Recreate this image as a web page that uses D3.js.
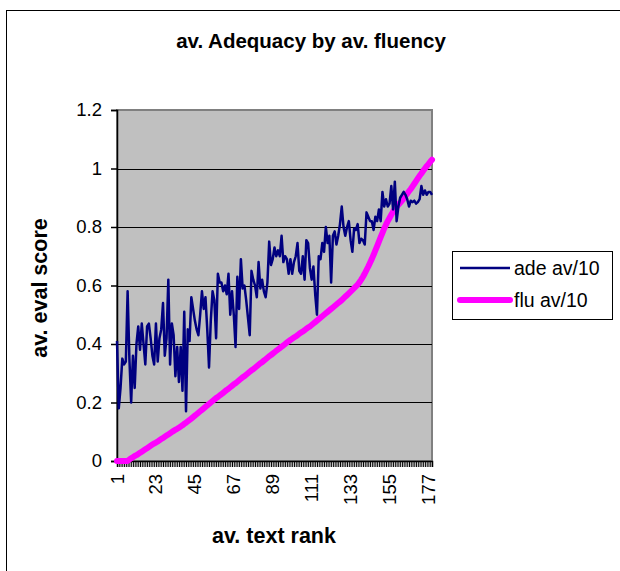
<!DOCTYPE html>
<meta charset="utf-8">
<style>
body { margin: 0; background: #fff; }
text { font-family: "Liberation Sans", Arial, sans-serif; fill: #000; }
.grid line { stroke: #000; stroke-width: 1px; }
</style>
<svg width="620" height="571"></svg>
<script src="https://d3js.org/d3.v7.min.js"></script>
<script>

// ade av/10, one value per text rank 1..179
var ade = [
  0.41, 0.18, 0.25, 0.35, 0.33, 0.34, 0.58, 0.35, 0.20, 0.36,
  0.25, 0.40, 0.46, 0.38, 0.47, 0.40, 0.33, 0.46, 0.47, 0.42,
  0.36, 0.33, 0.47, 0.34, 0.42, 0.45, 0.54, 0.36, 0.42, 0.62,
  0.33, 0.47, 0.43, 0.29, 0.39, 0.27, 0.39, 0.24, 0.51, 0.17,
  0.45, 0.41, 0.56, 0.52, 0.48, 0.45, 0.43, 0.50, 0.58, 0.52,
  0.56, 0.45, 0.32, 0.48, 0.58, 0.55, 0.42, 0.64, 0.61, 0.61,
  0.58, 0.60, 0.57, 0.64, 0.50, 0.58, 0.50, 0.39, 0.63, 0.52,
  0.69, 0.59, 0.60, 0.55, 0.49, 0.43, 0.65, 0.62, 0.60, 0.56,
  0.68, 0.59, 0.62, 0.58, 0.56, 0.61, 0.75, 0.67, 0.69, 0.73,
  0.70, 0.72, 0.70, 0.77, 0.68, 0.70, 0.69, 0.64, 0.69, 0.64,
  0.68, 0.70, 0.745, 0.65, 0.64, 0.70, 0.62, 0.755, 0.745, 0.66,
  0.62, 0.665, 0.57, 0.50, 0.70, 0.69, 0.745, 0.715, 0.80, 0.745,
  0.77, 0.61, 0.77, 0.785, 0.74, 0.77, 0.81, 0.87, 0.80, 0.77,
  0.80, 0.82, 0.755, 0.715, 0.795, 0.79, 0.81, 0.745, 0.76, 0.755,
  0.74, 0.85, 0.835, 0.82, 0.82, 0.79, 0.835, 0.82, 0.86, 0.82,
  0.92, 0.87, 0.895, 0.87, 0.88, 0.94, 0.86, 0.955, 0.82, 0.87,
  0.90, 0.91, 0.92, 0.91, 0.895, 0.87, 0.89, 0.885, 0.89, 0.88,
  0.885, 0.895, 0.94, 0.91, 0.925, 0.91, 0.92, 0.92, 0.91
];

// flu av/10, sorted ascending
var flu = [
  0, 0, 0, 0, 0, 0, 0, 0.005, 0.009, 0.013,
  0.017, 0.02, 0.024, 0.028, 0.032, 0.036, 0.04, 0.044, 0.048, 0.052,
  0.056, 0.06, 0.063, 0.067, 0.071, 0.075, 0.079, 0.083, 0.087, 0.091,
  0.095, 0.099, 0.103, 0.107, 0.11, 0.114, 0.118, 0.122, 0.127, 0.131,
  0.136, 0.14, 0.145, 0.15, 0.155, 0.16, 0.165, 0.17, 0.175, 0.18,
  0.185, 0.19, 0.195, 0.2, 0.205, 0.21, 0.215, 0.219, 0.224, 0.228,
  0.233, 0.238, 0.243, 0.247, 0.252, 0.257, 0.262, 0.266, 0.271, 0.276,
  0.281, 0.286, 0.29, 0.295, 0.3, 0.305, 0.31, 0.314, 0.319, 0.324,
  0.329, 0.334, 0.338, 0.343, 0.348, 0.353, 0.358, 0.362, 0.367, 0.372,
  0.377, 0.381, 0.386, 0.391, 0.395, 0.4, 0.405, 0.409, 0.414, 0.418,
  0.422, 0.426, 0.43, 0.435, 0.439, 0.443, 0.447, 0.452, 0.456, 0.46,
  0.465, 0.47, 0.475, 0.48, 0.485, 0.49, 0.495, 0.5, 0.505, 0.51,
  0.515, 0.52, 0.525, 0.53, 0.535, 0.54, 0.545, 0.55, 0.556, 0.562,
  0.567, 0.573, 0.579, 0.585, 0.591, 0.597, 0.603, 0.611, 0.62, 0.63,
  0.641, 0.653, 0.665, 0.678, 0.691, 0.705, 0.72, 0.735, 0.75, 0.765,
  0.78, 0.795, 0.808, 0.82, 0.831, 0.842, 0.852, 0.861, 0.869, 0.876,
  0.883, 0.89, 0.898, 0.906, 0.914, 0.922, 0.93, 0.939, 0.948, 0.957,
  0.966, 0.975, 0.983, 0.992, 1.0, 1.008, 1.015, 1.023, 1.03
];

var xTickLabels = [1, 23, 45, 67, 89, 111, 133, 155, 177];
var yTickValues = [0, 0.2, 0.4, 0.6, 0.8, 1, 1.2];
var seriesNames = ["ade av/10", "flu av/10"];

var svg = d3.select("svg");

var plotLeft = 117, plotRight = 432, plotTop = 110, plotBottom = 461;
var ranks = d3.range(1, ade.length + 1);

var x = d3.scaleLinear().domain([1, ade.length]).range([plotLeft, plotRight]);
var y = d3.scaleLinear().domain([0, 1.2]).range([plotBottom, plotTop]);

// chart area border (runs off the page right and bottom)
svg.append("rect")
    .attr("x", 6.5).attr("y", 10.5)
    .attr("width", 700).attr("height", 700)
    .attr("fill", "#fff").attr("stroke", "#000");

svg.append("text")
    .attr("x", 311).attr("y", 48)
    .attr("text-anchor", "middle")
    .attr("font-size", 20.5).attr("font-weight", "bold")
    .text("av. Adequacy by av. fluency");

// plot area
svg.append("rect")
    .attr("x", plotLeft).attr("y", plotTop)
    .attr("width", plotRight - plotLeft).attr("height", plotBottom - plotTop)
    .attr("fill", "#c0c0c0").attr("stroke", "#808080").attr("stroke-width", 2);

svg.append("g")
    .attr("class", "grid")
  .selectAll("line")
    .data(yTickValues.slice(1, -1))
    .enter().append("line")
    .attr("x1", plotLeft).attr("x2", plotRight)
    .attr("y1", function(d) { return Math.round(y(d)) + 0.5; })
    .attr("y2", function(d) { return Math.round(y(d)) + 0.5; });

// y axis
var yAxis = svg.append("g")
    .attr("transform", "translate(" + plotLeft + ",0)")
    .call(d3.axisLeft(y).tickValues(yTickValues).tickSize(6).tickPadding(9)
      .tickFormat(d3.format("~g")));
yAxis.selectAll("text").attr("font-size", 18.5).style("font-family", "Liberation Sans, Arial, sans-serif");
yAxis.selectAll("line, path").attr("stroke", "#000").attr("stroke-width", 1.5);

// x axis: a tick per rank, labels every 22
var xAxis = svg.append("g")
    .attr("transform", "translate(0," + plotBottom + ")")
    .call(d3.axisBottom(x).tickValues(ranks).tickSize(6).tickFormat(""));
xAxis.selectAll("line").attr("stroke", "#000").attr("stroke-width", 1);
xAxis.select("path").attr("stroke", "#000").attr("stroke-width", 1.5);

svg.append("g")
  .selectAll("text")
    .data(xTickLabels)
    .enter().append("text")
    .attr("transform", function(d) { return "translate(" + (x(d) + 6.5) + "," + (plotBottom + 13) + ") rotate(-90)"; })
    .attr("text-anchor", "end")
    .attr("font-size", 18.5)
    .text(function(d) { return d; });

svg.append("text")
    .attr("x", 274).attr("y", 543)
    .attr("text-anchor", "middle")
    .attr("font-size", 21.5).attr("font-weight", "bold")
    .text("av. text rank");

svg.append("text")
    .attr("transform", "translate(47,288) rotate(-90)")
    .attr("text-anchor", "middle")
    .attr("font-size", 21.5).attr("font-weight", "bold")
    .text("av. eval score");

var line = d3.line()
    .x(function(d, i) { return x(i + 1); })
    .y(function(d) { return y(d); });

svg.append("path")
    .datum(flu)
    .attr("d", line)
    .attr("fill", "none")
    .attr("stroke", "#ff00ff")
    .attr("stroke-width", 6)
    .attr("stroke-linejoin", "round")
    .attr("stroke-linecap", "round");

svg.append("path")
    .datum(ade)
    .attr("d", line)
    .attr("fill", "none")
    .attr("stroke", "#000080")
    .attr("stroke-width", 2.5)
    .attr("stroke-linejoin", "round");

// legend
var legend = svg.append("g");
legend.append("rect")
    .attr("x", 452.5).attr("y", 251.5)
    .attr("width", 160).attr("height", 68)
    .attr("fill", "#fff").attr("stroke", "#000");

legend.append("line")
    .attr("x1", 460).attr("x2", 510).attr("y1", 268).attr("y2", 268)
    .attr("stroke", "#000080").attr("stroke-width", 2.5);
legend.append("line")
    .attr("x1", 460).attr("x2", 510).attr("y1", 300).attr("y2", 300)
    .attr("stroke", "#ff00ff").attr("stroke-width", 6).attr("stroke-linecap", "round");

legend.selectAll("text")
    .data(seriesNames)
    .enter().append("text")
    .attr("x", 514)
    .attr("y", function(d, i) { return 275 + i * 32; })
    .attr("font-size", 19.5)
    .text(function(d) { return d; });

</script>
